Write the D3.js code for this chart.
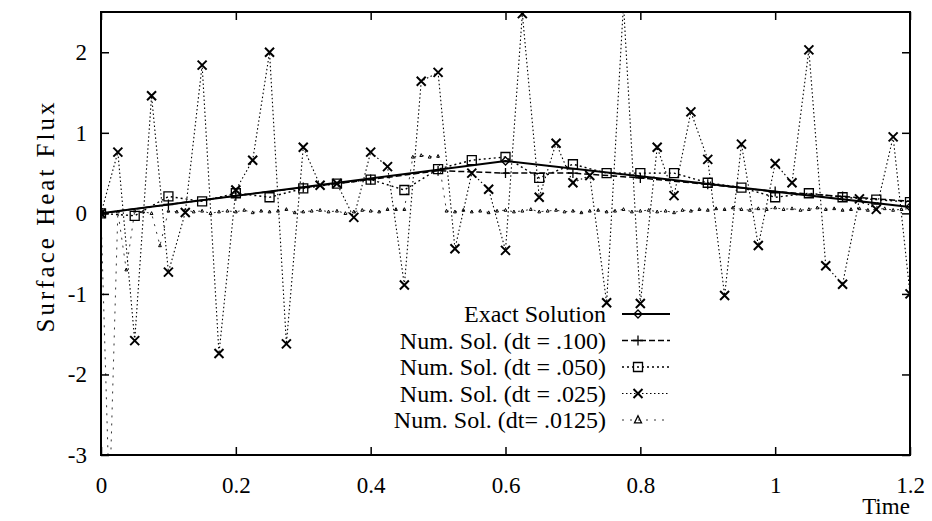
<!DOCTYPE html>
<html>
<head>
<meta charset="utf-8">
<script src="https://cdn.jsdelivr.net/npm/d3@7"></script>
<style>
  body { margin: 0; background: #fff; }
  text { font-family: "Liberation Serif", "Times New Roman", serif; fill: #000; }
</style>
</head>
<body>
<svg></svg>
<script>
// values
const exactT = [0, 0.6, 1.2]
const exactQ = [0, 0.65, 0.08]

// dt = .100
const q100 = [0, 0.11, 0.22, 0.32, 0.42, 0.53, 0.5, 0.5, 0.44, 0.36, 0.27, 0.21, 0.15]

// dt = .050
const q050 = [0, -0.03, 0.21, 0.15, 0.25, 0.2, 0.31, 0.37, 0.42, 0.29, 0.55, 0.66, 0.7,
  0.44, 0.61, 0.5, 0.5, 0.5, 0.38, 0.32, 0.2, 0.25, 0.2, 0.17, 0.14]

// dt = .025
const q025 = [0, 0.76, -1.58, 1.46, -0.73, 0.01, 1.84, -1.74, 0.29, 0.66,
  2.0, -1.62, 0.82, 0.35, 0.37, -0.05, 0.76, 0.58, -0.89, 1.64,
  1.75, -0.44, 0.5, 0.3, -0.46, 2.48, 0.2, 0.87, 0.38, 0.47,
  -1.11, 2.6, -1.12, 0.82, 0.22, 1.26, 0.67, -1.02, 0.86, -0.4,
  0.62, 0.38, 2.03, -0.65, -0.88, 0.18, 0.05, 0.95, -1.0]

// dt = .0125
const q0125 = [0, -3.6, 0.02, -0.7, 0.03, 0.02, 0.0, -0.4, 0.03, 0.02,
  0.04, 0.02, 0.03, 0.0, 0.02, 0.03, 0.02, 0.04, 0.01, 0.03,
  0.02, 0.03, 0.05, 0.01, 0.02, 0.03, 0.04, 0.02, 0.03, 0.0,
  0.02, 0.04, 0.03, 0.02, 0.05, 0.05, 0.05, 0.7, 0.72, 0.7,
  0.71, 0.03, 0.02, 0.04, 0.02, 0.03, 0.01, 0.03, 0.04, 0.02,
  0.03, 0.05, 0.02, 0.03, 0.04, 0.02, 0.03, 0.01, 0.03, 0.04,
  0.02, 0.03, 0.05, 0.02, 0.03, 0.04, 0.02, 0.03, 0.01, 0.04,
  0.03, 0.05, 0.04, 0.06, 0.05, 0.07, 0.05, 0.04, 0.06, 0.05,
  0.07, 0.05, 0.06, 0.04, 0.05, 0.07, 0.05, 0.06, 0.04, 0.05,
  0.06, 0.04, 0.05, 0.06, 0.04, 0.05, 0.06]

const xTicks = [0, 0.2, 0.4, 0.6, 0.8, 1, 1.2]
const xTickLabels = ['0', '0.2', '0.4', '0.6', '0.8', '1', '1.2']
const yTicks = [-3, -2, -1, 0, 1, 2]
const yTickLabels = ['-3', '-2', '-1', '0', '1', '2']
const legendLabels = ['Exact Solution', 'Num. Sol. (dt = .100)', 'Num. Sol. (dt = .050)',
  'Num. Sol. (dt = .025)', 'Num. Sol. (dt= .0125)']

const
    W = 932,
    H = 521,
    LEFT = 101,
    RIGHT = 910,
    TOP = 12,
    BOTTOM = 455

const svg = d3.select('svg').attr('width', W).attr('height', H)

const x = d3.scaleLinear().domain([0, 1.2]).range([LEFT, RIGHT])
const y = d3.scaleLinear().domain([-3, 2.5]).range([BOTTOM, TOP])

// pair values with their time steps
const withTime = (vals, dt) => vals.map((v, i) => ({ t: i * dt, v: v }))

const series = [
  { data: exactT.map((t, i) => ({ t: t, v: exactQ[i] })), dash: null, width: 2, mark: 'diamond', ms: 4 },
  { data: withTime(q100, 0.1), dash: '6,3', width: 1.5, mark: 'plus', ms: 5 },
  { data: withTime(q050, 0.05), dash: '2,3', width: 1.4, mark: 'square', ms: 4.5 },
  { data: withTime(q025, 0.025), dash: '1.5,2.5', width: 1.1, mark: 'cross', ms: 4.5 },
  { data: withTime(q0125, 0.0125), dash: '2,6', width: 0.8, mark: 'triangle', ms: 1.4 }
]

function markPath(type, s) {
  if (type === 'plus') return `M${-s},0H${s}M0,${-s}V${s}`
  if (type === 'cross') return `M${-s},${-s}L${s},${s}M${-s},${s}L${s},${-s}`
  if (type === 'square') return `M${-s},${-s}H${s}V${s}H${-s}Z`
  if (type === 'diamond') return `M0,${-s}L${s},0L0,${s}L${-s},0Z`
  return `M0,${-s * 1.2}L${s},${s * 0.8}L${-s},${s * 0.8}Z`
}

svg.append('clipPath').attr('id', 'plot')
  .append('rect')
  .attr('x', LEFT).attr('y', TOP)
  .attr('width', RIGHT - LEFT).attr('height', BOTTOM - TOP)

// axes: ticks point inward on every side
const tickLen = 8
svg.append('g')
  .attr('transform', `translate(0,${BOTTOM})`)
  .call(d3.axisBottom(x).tickValues(xTicks).tickSize(-tickLen).tickPadding(22)
    .tickFormat((d, i) => xTickLabels[i]))
svg.append('g')
  .attr('transform', `translate(0,${TOP})`)
  .call(d3.axisTop(x).tickValues(xTicks).tickSize(-tickLen).tickFormat(''))
svg.append('g')
  .attr('transform', `translate(${LEFT},0)`)
  .call(d3.axisLeft(y).tickValues(yTicks).tickSize(-tickLen).tickPadding(14)
    .tickFormat((d, i) => yTickLabels[i]))
svg.append('g')
  .attr('transform', `translate(${RIGHT},0)`)
  .call(d3.axisRight(y).tickValues(yTicks).tickSize(-tickLen).tickFormat(''))

svg.selectAll('.domain').remove()
svg.selectAll('.tick line').attr('stroke', '#000').attr('stroke-width', 1.5)
svg.selectAll('.tick text').style('font-size', '23px')
  .style('font-family', '"Liberation Serif", serif').attr('fill', '#000')

svg.append('rect')
  .attr('x', LEFT).attr('y', TOP)
  .attr('width', RIGHT - LEFT).attr('height', BOTTOM - TOP)
  .attr('fill', 'none').attr('stroke', '#000').attr('stroke-width', 2)

// series lines and markers
const line = d3.line().x(d => x(d.t)).y(d => y(d.v))
const plot = svg.append('g').attr('clip-path', 'url(#plot)')

series.slice().reverse().forEach(s => {
  plot.append('path')
    .datum(s.data)
    .attr('d', line)
    .attr('fill', 'none')
    .attr('stroke', '#000')
    .attr('stroke-width', s.width)
    .attr('stroke-dasharray', s.dash)
  plot.selectAll(null)
    .data(s.data.filter(d => d.v >= -3 && d.v <= 2.5))
    .enter().append('path')
    .attr('transform', d => `translate(${x(d.t)},${y(d.v)})`)
    .attr('d', markPath(s.mark, s.ms))
    .attr('fill', 'none')
    .attr('stroke', '#000')
    .attr('stroke-width', s.mark === 'cross' ? 2 : (s.mark === 'triangle' ? 1 : 1.3))
})

// legend
const legend = svg.append('g')
legendLabels.forEach((lab, i) => {
  const ly = 314 + i * 26.5
  const s = series[i]
  legend.append('text')
    .attr('x', 606).attr('y', ly + 8)
    .attr('text-anchor', 'end')
    .style('font-size', '24px')
    .text(lab)
  legend.append('line')
    .attr('x1', 622).attr('x2', 670)
    .attr('y1', ly).attr('y2', ly)
    .attr('stroke', '#000')
    .attr('stroke-width', s.width)
    .attr('stroke-dasharray', s.dash)
  legend.append('path')
    .attr('transform', `translate(${638},${ly})`)
    .attr('d', markPath(s.mark, s.mark === 'triangle' ? 3.5 : s.ms))
    .attr('fill', 'none')
    .attr('stroke', '#000')
    .attr('stroke-width', s.mark === 'cross' ? 2 : 1.3)
})

// axis titles
svg.append('text')
  .attr('transform', 'translate(54,216) rotate(-90)')
  .attr('text-anchor', 'middle')
  .style('font-size', '25px')
  .style('letter-spacing', '3px')
  .text('Surface Heat Flux')

svg.append('text')
  .attr('x', 886).attr('y', 514)
  .attr('text-anchor', 'middle')
  .style('font-size', '23px')
  .text('Time')
</script>
</body>
</html>
